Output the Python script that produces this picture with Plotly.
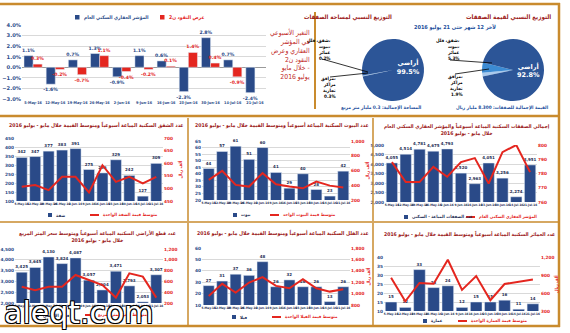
import plotly.graph_objects as go

W, H = 570, 333
def fx(p): return p / W
def fy(p): return 1 - p / H

NAVY = "#2a4a88"
RED = "#e4261f"
ORANGE = "#c98b2e"
MAROON = "#9c2019"
BLUE_TXT = "#1d4f9c"
GRID = "#d9d9d9"
FONT = "DejaVu Sans"
AR = "DejaVu Sans Condensed, DejaVu Sans"
NARROW = "Liberation Sans Narrow, DejaVu Sans Condensed, Liberation Sans"

# ---------------- data ----------------
weeks = ["5-May-16", "12-May-16", "19-May-16", "26-May-16", "2-Jun-16", "9-Jun-16",
         "16-Jun-16", "23-Jun-16", "30-Jun-16", "14-Jul-16", "21-Jul-16"]

index_change = [1.1, -1.6, 0.7, 1.3, -0.9, 1.1, 0.6, -2.3, 2.8, 0.7, -2.4]
m2_change = [0.3, -0.2, -0.7, 1.1, -0.4, -0.2, 0.1, 1.4, 0.4, -0.9, None]

pie_labels = ["مرافق، مراكز تجارية", "شقق، فلل، بيوت، عمائر", "أراضي"]
pie_value_share = [1.9, 5.3, 92.8]
pie_area_share = [0.3, 0.2, 99.5]

apartments = [342, 347, 377, 383, 391, 275, 256, 329, 242, 127, 309]
apartment_avg = [507, 513, 493, 546, 546, 484, 592, 526, 546, 520, 546]
houses = [44, 57, 61, 51, 60, 41, 29, 40, 28, 23, 42]
house_avg = [473, 595, 405, 382, 564, 414, 382, 359, 450, 395, 368]
total_deals = [4055, 4514, 4781, 4675, 4793, 3520, 2963, 4051, 3256, 2274, 3951]
res_index = [788, 774, 774, 784.6, 777.7, 788, 790.8, 773, 795, 800, 781]
land_plots = [3425, 3645, 4130, 3824, 4087, 3057, 2604, 3471, 2793, 2053, 3307]
land_sqm_price = [500, 437, 500, 500, 719, 625, 531, 300, 750, 688, 300]
villas = [27, 31, 37, 36, 48, 26, 32, 26, 26, 13, 26]
villa_avg = [959, 1171, 1018, 1194, 1288, 1135, 1094, 1253, 1094, 1035, 1076]
buildings = [15, 12, 33, 23, 24, 12, 15, 15, 16, 11, 14]
building_avg = [854, 462, 767, 756, 1154, 652, 883, 479, 750, 785, 825]

fig = go.Figure()
layout = dict(width=W, height=H, margin=dict(l=0, r=0, t=0, b=0),
              paper_bgcolor="white", plot_bgcolor="white", showlegend=False,
              barmode="group", bargap=0.18, bargroupgap=0.0,
              font=dict(family=FONT))
annotations = []
shapes = []

def ann(text, x, y, size, color, xanchor="center", yanchor="middle", align="center",
        weight="bold", angle=0, family=AR, **kw):
    d = dict(text=text, x=fx(x), y=fy(y), xref="paper", yref="paper", showarrow=False,
             xanchor=xanchor, yanchor=yanchor, align=align, textangle=angle,
             font=dict(size=size, color=color, family=family, weight=weight))
    d["font"].update(kw.pop("font_extra", {}))
    d.update(kw)
    annotations.append(d)

def hline(x0, x1, y, color=ORANGE, w=2):
    shapes.append(dict(type="line", xref="paper", yref="paper", x0=fx(x0), x1=fx(x1),
                       y0=fy(y), y1=fy(y), line=dict(color=color, width=w)))

def vline(x, y0, y1, color=ORANGE, w=2):
    shapes.append(dict(type="line", xref="paper", yref="paper", x0=fx(x), x1=fx(x),
                       y0=fy(y0), y1=fy(y1), line=dict(color=color, width=w)))

def seg(x0, y0, x1, y1, color="black", w=0.8):
    shapes.append(dict(type="line", xref="paper", yref="paper", x0=fx(x0), x1=fx(x1),
                       y0=fy(y0), y1=fy(y1), line=dict(color=color, width=w)))

def rect(x0, y0, x1, y1, color, line=None):
    shapes.append(dict(type="rect", xref="paper", yref="paper", x0=fx(x0), x1=fx(x1),
                       y0=fy(y1), y1=fy(y0), fillcolor=color,
                       line=dict(width=0) if line is None else line))

# ---------------- top weekly change chart ----------------
fig.add_trace(go.Bar(x=weeks, y=index_change, marker_color=NAVY, xaxis="x", yaxis="y",
                     text=[f"{v:.1f}%" for v in index_change], textposition="outside",
                     textfont=dict(size=4.6, color=NAVY, weight="bold"),
                     cliponaxis=False, constraintext="none", hoverinfo="skip"))
fig.add_trace(go.Bar(x=weeks, y=m2_change, marker_color=RED, xaxis="x", yaxis="y",
                     text=["" if v is None else f"{v:.1f}%" for v in m2_change],
                     textposition="outside",
                     textfont=dict(size=4.6, color=RED, weight="bold"),
                     cliponaxis=False, constraintext="none", hoverinfo="skip"))
layout["xaxis"] = dict(domain=[fx(22), fx(266)], anchor="y", type="category",
                       showgrid=False, showline=False, ticks="", tickangle=0,
                       tickmode="array", tickvals=weeks, ticktext=weeks,
                       tickfont=dict(size=3.8, color=NAVY, family=NARROW, weight="bold"),
                       automargin=False, fixedrange=True)
layout["yaxis"] = dict(domain=[fy(99), fy(25)], anchor="x", range=[-3, 4], dtick=1,
                       tickformat=".1f", ticksuffix="%", gridcolor=GRID, gridwidth=0.8,
                       zeroline=True, zerolinecolor="#9a9a9a", zerolinewidth=0.8,
                       tickfont=dict(size=5.2, color=NAVY, weight="bold"),
                       automargin=False, fixedrange=True)
rect(75, 15, 79.5, 19.5, NAVY)
ann("المؤشر العقاري السكني العام", 82, 17.5, 4.9, NAVY, xanchor="left")
rect(160, 15, 164.5, 19.5, RED)
ann("عرض النقود ن2", 167, 17.5, 5.0, RED, xanchor="left")

ann("التغير الأسبوعي<br>في المؤشر<br>العقاري وعرض<br>النقود ن2<br>خلال مايو -<br>يوليو 2016",
    312, 54, 6.8, "#c0281f", xanchor="right", align="right", weight="normal")

# ---------------- pies ----------------
pie_colors = ["#a9c9ec", "#3c8bd3", "#2c5597"]
fig.add_trace(go.Pie(values=pie_area_share, labels=pie_labels, sort=False,
                     direction="clockwise", rotation=-102,
                     marker=dict(colors=pie_colors, line=dict(width=0)),
                     text=["", "", "أراضي<br>99.5%"], textinfo="text",
                     textposition="inside", insidetextorientation="horizontal",
                     textfont=dict(size=6.5, color="white", weight="bold"),
                     domain=dict(x=[fx(362), fx(424)], y=[fy(101), fy(39)]),
                     hoverinfo="skip", showlegend=False))
fig.add_trace(go.Pie(values=pie_value_share, labels=pie_labels, sort=False,
                     direction="clockwise", rotation=-102,
                     marker=dict(colors=pie_colors, line=dict(width=0)),
                     text=["", "", "أراضي<br>92.8%"], textinfo="text",
                     textposition="inside", insidetextorientation="horizontal",
                     textfont=dict(size=6.5, color="white", weight="bold"),
                     domain=dict(x=[fx(482), fx(544)], y=[fy(101), fy(39)]),
                     hoverinfo="skip", showlegend=False))

ann("التوزيع النسبي لقيمة الصفقات", 553, 17, 6.2, MAROON, xanchor="right")
ann("التوزيع النسبي لمساحة الصفقات", 394, 17, 6.0, MAROON, xanchor="right")
ann("لآخر 12 شهر حتى 21 يوليو 2016", 455, 28, 5.5, BLUE_TXT)
ann("القيمة الإجمالية للصفقات: 8.300 مليار ريال", 551, 108, 4.7, BLUE_TXT, xanchor="right")
ann("المساحة الإجمالية: 0.3 مليار متر مربع", 424, 108, 4.8, BLUE_TXT, xanchor="right")

ann("شقق، فلل،<br>بيوت،<br>عمائر<br>0.2%", 333, 50, 4.6, "black", xanchor="right", align="right")
ann("مرافق،<br>مراكز<br>تجارية<br>0.3%", 338, 87, 4.6, "black", xanchor="right", align="right")
seg(322, 59, 368, 72)
seg(330, 77, 368, 73)
ann("شقق، فلل،<br>بيوت،<br>عمائر<br>5.3%", 462, 49, 4.6, "black", xanchor="right", align="right")
ann("مرافق،<br>مراكز<br>تجارية<br>1.9%", 465, 85, 4.6, "black", xanchor="right", align="right")
seg(450, 60, 492, 63)
seg(455, 74, 489, 69)

# ---------------- dual-axis panels ----------------
def panel(i, x0, x1, y0, y1, bars, line, lrange, ldtick, rrange, rdtick,
          ltickfmt="d", rtickfmt="d", rtitle=None, rtitle_x=None):
    xa, yl, yr = f"x{i}", f"y{2*i-2}", f"y{2*i-1}"
    fig.add_trace(go.Bar(x=weeks, y=bars, marker_color=NAVY, xaxis=xa, yaxis=yl,
                         text=[format(v, "," if ltickfmt == ",d" else "d") for v in bars],
                         textposition="outside", cliponaxis=False, constraintext="none",
                         textfont=dict(size=4.0, color="#1f2f55", weight="bold"),
                         hoverinfo="skip"))
    fig.add_trace(go.Scatter(x=weeks, y=line, mode="lines", xaxis=xa, yaxis=yr,
                             line=dict(color=RED, width=2), hoverinfo="skip", cliponaxis=False))
    layout[f"xaxis{i}"] = dict(domain=[fx(x0), fx(x1)], anchor=yl, type="category",
                               showgrid=False, showline=False, ticks="", tickangle=0,
                               tickmode="array", tickvals=weeks, ticktext=weeks,
                               tickfont=dict(size=3.1, color="#1f2f55", family=NARROW, weight="bold"),
                               automargin=False, fixedrange=True)
    layout[f"yaxis{2*i-2}"] = dict(domain=[fy(y1), fy(y0)], anchor=xa, range=lrange,
                                   dtick=ldtick, tickformat=ltickfmt, gridcolor=GRID,
                                   gridwidth=0.7, zeroline=False, showline=False,
                                   tickfont=dict(size=4.3, color=NAVY, weight="bold"),
                                   automargin=False, fixedrange=True)
    layout[f"yaxis{2*i-1}"] = dict(overlaying=yl, side="right", anchor=xa, range=rrange,
                                   dtick=rdtick, tickformat=rtickfmt, showgrid=False,
                                   zeroline=False, showline=False,
                                   tickfont=dict(size=4.3, color=RED, weight="bold"),
                                   automargin=False, fixedrange=True)
    if rtitle:
        ann(rtitle, rtitle_x, (y0 + y1) / 2, 4.4, RED, angle=-90)

def legend(xsq, ylg, bar_label, xline, line_label):
    rect(xsq, ylg - 2, xsq + 4, ylg + 2, NAVY)
    ann(bar_label, xsq + 6, ylg, 4.4, "#1f2f55", xanchor="left")
    seg(xline, ylg, xline + 9, ylg, RED, 2)
    ann(line_label, xline + 11, ylg, 4.4, RED, xanchor="left")

TS = 5.2
# middle row
panel(2, 15, 163, 138, 201, apartments, apartment_avg, [100, 450], 50, [450, 700], 50,
      rtitle="ألف ريال", rtitle_x=180)
ann("عدد الشقق السكنية المباعة أسبوعياً ومتوسط القيمة خلال مايو - يوليو 2016",
    186, 125, TS, MAROON, xanchor="right")
legend(48, 215, "شقة", 90, "متوسط قيمة الشقة الواحدة")

panel(3, 202, 350, 141, 200, houses, house_avg, [20, 65], 5, [200, 1000], 200,
      rtitle="ألف ريال", rtitle_x=367)
layout["yaxis5"]["tickformat"] = ",d"
ann("عدد البيوت السكنية المباعة أسبوعياً ومتوسط القيمة خلال مايو - يوليو 2016",
    371, 125, TS, MAROON, xanchor="right")
legend(233, 215, "بيوت", 270, "متوسط قيمة البيوت الواحد")

panel(4, 385, 537, 145, 202, total_deals, res_index, [2000, 5000], 500, [760, 800], 10,
      ltickfmt=",d")
ann("إجمالي الصفقات السكنية المباعة أسبوعياً والمؤشر العقاري السكني العام<br>خلال مايو - يوليو 2016",
    467, 129, 5.1, MAROON)
legend(404, 217, "عدد الصفقات المباعة - السكني", 466, "المؤشر العقاري السكني العام")

# bottom row
panel(5, 15, 163, 249, 303, land_plots, land_sqm_price, [2000, 4500], 500, [200, 1200], 200,
      ltickfmt=",d", rtickfmt=",d")
ann("عدد قطع الأراضي السكنية المباعة أسبوعياً ومتوسط سعر المتر المربع<br>خلال مايو - يوليو 2016",
    97, 237, 5.1, MAROON)
legend(35, 315, "قطع الأراضي", 85, "متوسط سعر المتر المربع")

panel(6, 202, 350, 248, 305, villas, villa_avg, [10, 60], 10, [800, 1800], 200,
      rtickfmt=",d", rtitle="ألف ريال", rtitle_x=368)
ann("عدد الفلل السكنية المباعة أسبوعياً ومتوسط القيمة خلال مايو - يوليو 2016",
    371, 233, TS, MAROON, xanchor="right")
legend(232, 317, "فيلا", 272, "متوسط قيمة الفيلا الواحدة")

panel(7, 384, 540, 257, 311, buildings, building_avg, [10, 40], 5, [300, 1200], 300,
      rtickfmt=",d", rtitle="ألف ريال", rtitle_x=556)
ann("عدد العمائر السكنية المباعة أسبوعياً ومتوسط القيمة خلال مايو - يوليو 2016",
    557, 234, 5.1, MAROON, xanchor="right")
legend(423, 321, "عمارة", 458, "متوسط قيمة العمارة الواحدة")

# ---------------- frame lines ----------------
hline(0, 560, 4, w=2.5)
vline(559, 3, 327, w=2.5)
hline(0, 560, 116, w=2.5)
hline(0, 560, 222, w=1.5)
hline(0, 560, 326, w=2.5)
vline(315, 12, 109, w=2)
vline(188, 118, 221, w=1.5)
vline(373, 118, 221, w=1.5)
vline(188, 223, 325, w=1.5)
vline(373, 223, 325, w=1.5)

# watermark
ann("aleqt.com", 2, 312, 30, "white", xanchor="left", weight="normal", family=FONT,
    font_extra=dict(shadow="1px 1px 0 #000, -1px -1px 0 #000, 1px -1px 0 #000, -1px 1px 0 #000"))

layout["annotations"] = annotations
layout["shapes"] = shapes
fig.update_layout(**layout)
fig.write_html("out.html")
